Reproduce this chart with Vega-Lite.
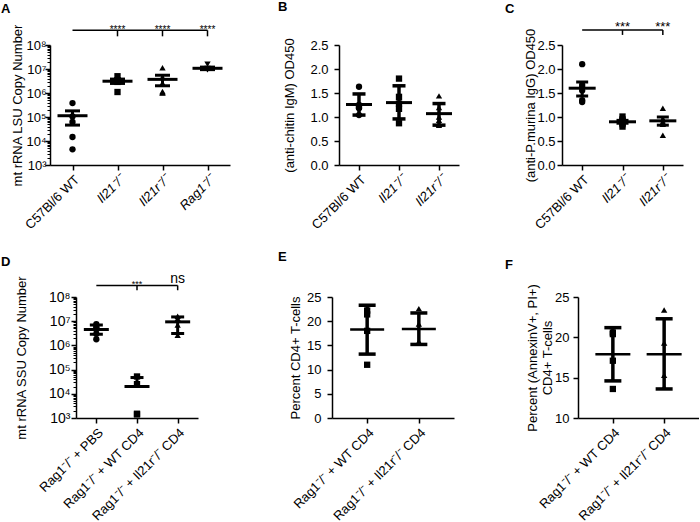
{
  "$schema": "https://vega.github.io/schema/vega-lite/v6.json",
  "padding": {"left": 0, "top": 0, "right": 0, "bottom": 0},
  "spacing": 252,
  "bounds": "flush",
  "datasets": {
    "a_pts": [
      {"group": "C57Bl/6 WT", "value": 380000}, {"group": "C57Bl/6 WT", "value": 105000}, {"group": "C57Bl/6 WT", "value": 62000}, {"group": "C57Bl/6 WT", "value": 14700}, {"group": "C57Bl/6 WT", "value": 4500},
      {"group": "Il21⁻/⁻", "value": 5000000}, {"group": "Il21⁻/⁻", "value": 3300000}, {"group": "Il21⁻/⁻", "value": 3000000}, {"group": "Il21⁻/⁻", "value": 2900000}, {"group": "Il21⁻/⁻", "value": 3400000}, {"group": "Il21⁻/⁻", "value": 1100000},
      {"group": "Il21r⁻/⁻", "value": 11300000}, {"group": "Il21r⁻/⁻", "value": 4600000}, {"group": "Il21r⁻/⁻", "value": 2600000}, {"group": "Il21r⁻/⁻", "value": 1150000}, {"group": "Il21r⁻/⁻", "value": 1000000}, {"group": "Il21r⁻/⁻", "value": 1050000},
      {"group": "Rag1⁻/⁻", "value": 15800000}, {"group": "Rag1⁻/⁻", "value": 10500000}, {"group": "Rag1⁻/⁻", "value": 10000000}, {"group": "Rag1⁻/⁻", "value": 9500000}, {"group": "Rag1⁻/⁻", "value": 9200000}, {"group": "Rag1⁻/⁻", "value": 10200000}
    ],
    "a_sum": [
      {"group": "C57Bl/6 WT", "mean": 113000, "lo": 46000, "hi": 180000},
      {"group": "Il21⁻/⁻", "mean": 3100000, "lo": 2500000, "hi": 3800000},
      {"group": "Il21r⁻/⁻", "mean": 3700000, "lo": 2000000, "hi": 5500000},
      {"group": "Rag1⁻/⁻", "mean": 10700000, "lo": 9400000, "hi": 12000000}
    ],
    "a_bar": [{"from": "C57Bl/6 WT", "to": "Rag1⁻/⁻", "y": 410000000}],
    "a_drop": [
      {"group": "Il21⁻/⁻", "top": 410000000, "bottom": 230000000, "label": "****"},
      {"group": "Il21r⁻/⁻", "top": 410000000, "bottom": 230000000, "label": "****"},
      {"group": "Rag1⁻/⁻", "top": 410000000, "bottom": 230000000, "label": "****"}
    ],
    "b_pts": [
      {"group": "C57Bl/6 WT", "value": 1.63}, {"group": "C57Bl/6 WT", "value": 1.25}, {"group": "C57Bl/6 WT", "value": 1.22}, {"group": "C57Bl/6 WT", "value": 1.2}, {"group": "C57Bl/6 WT", "value": 1.18}, {"group": "C57Bl/6 WT", "value": 1.04},
      {"group": "Il21⁻/⁻", "value": 1.8}, {"group": "Il21⁻/⁻", "value": 1.42}, {"group": "Il21⁻/⁻", "value": 1.28}, {"group": "Il21⁻/⁻", "value": 1.17}, {"group": "Il21⁻/⁻", "value": 0.87},
      {"group": "Il21r⁻/⁻", "value": 1.44}, {"group": "Il21r⁻/⁻", "value": 1.2}, {"group": "Il21r⁻/⁻", "value": 1.0}, {"group": "Il21r⁻/⁻", "value": 0.93}, {"group": "Il21r⁻/⁻", "value": 0.85}, {"group": "Il21r⁻/⁻", "value": 0.83}
    ],
    "b_sum": [
      {"group": "C57Bl/6 WT", "mean": 1.26, "lo": 1.04, "hi": 1.48},
      {"group": "Il21⁻/⁻", "mean": 1.3, "lo": 0.96, "hi": 1.65},
      {"group": "Il21r⁻/⁻", "mean": 1.07, "lo": 0.83, "hi": 1.28}
    ],
    "c_pts": [
      {"group": "C57Bl/6 WT", "value": 2.1}, {"group": "C57Bl/6 WT", "value": 1.67}, {"group": "C57Bl/6 WT", "value": 1.62}, {"group": "C57Bl/6 WT", "value": 1.55}, {"group": "C57Bl/6 WT", "value": 1.35}, {"group": "C57Bl/6 WT", "value": 1.31},
      {"group": "Il21⁻/⁻", "value": 1.01}, {"group": "Il21⁻/⁻", "value": 0.95}, {"group": "Il21⁻/⁻", "value": 0.92}, {"group": "Il21⁻/⁻", "value": 0.88}, {"group": "Il21⁻/⁻", "value": 0.85}, {"group": "Il21⁻/⁻", "value": 0.8},
      {"group": "Il21r⁻/⁻", "value": 1.18}, {"group": "Il21r⁻/⁻", "value": 0.96}, {"group": "Il21r⁻/⁻", "value": 0.95}, {"group": "Il21r⁻/⁻", "value": 0.9}, {"group": "Il21r⁻/⁻", "value": 0.85}, {"group": "Il21r⁻/⁻", "value": 0.62}
    ],
    "c_sum": [
      {"group": "C57Bl/6 WT", "mean": 1.6, "lo": 1.44, "hi": 1.73},
      {"group": "Il21⁻/⁻", "mean": 0.9, "lo": 0.87, "hi": 0.93},
      {"group": "Il21r⁻/⁻", "mean": 0.92, "lo": 0.83, "hi": 1.0}
    ],
    "c_bar": [{"from": "C57Bl/6 WT", "to": "Il21r⁻/⁻", "y": 2.81}],
    "c_drop": [
      {"group": "Il21⁻/⁻", "top": 2.81, "bottom": 2.71, "label": "***"},
      {"group": "Il21r⁻/⁻", "top": 2.81, "bottom": 2.71, "label": "***"}
    ],
    "d_pts": [
      {"group": "Rag1⁻/⁻ + PBS", "value": 7500000}, {"group": "Rag1⁻/⁻ + PBS", "value": 6000000}, {"group": "Rag1⁻/⁻ + PBS", "value": 5000000}, {"group": "Rag1⁻/⁻ + PBS", "value": 4500000}, {"group": "Rag1⁻/⁻ + PBS", "value": 3000000}, {"group": "Rag1⁻/⁻ + PBS", "value": 1800000},
      {"group": "Rag1⁻/⁻ + WT CD4", "value": 52000}, {"group": "Rag1⁻/⁻ + WT CD4", "value": 25000}, {"group": "Rag1⁻/⁻ + WT CD4", "value": 1500}, {"group": "Rag1⁻/⁻ + WT CD4", "value": 1400},
      {"group": "Rag1⁻/⁻ + Il21r⁻/⁻ CD4", "value": 16000000}, {"group": "Rag1⁻/⁻ + Il21r⁻/⁻ CD4", "value": 13000000}, {"group": "Rag1⁻/⁻ + Il21r⁻/⁻ CD4", "value": 7000000}, {"group": "Rag1⁻/⁻ + Il21r⁻/⁻ CD4", "value": 2600000}
    ],
    "d_sum": [
      {"group": "Rag1⁻/⁻ + PBS", "mean": 4500000, "lo": 2900000, "hi": 6900000},
      {"group": "Rag1⁻/⁻ + WT CD4", "mean": 20000, "lo": 20000, "hi": 47000},
      {"group": "Rag1⁻/⁻ + Il21r⁻/⁻ CD4", "mean": 9400000, "lo": 3100000, "hi": 15000000}
    ],
    "d_bar": [{"from": "Rag1⁻/⁻ + PBS", "to": "Rag1⁻/⁻ + Il21r⁻/⁻ CD4", "y": 300000000}],
    "d_drop": [
      {"group": "Rag1⁻/⁻ + WT CD4", "top": 300000000, "bottom": 190000000, "label": "***"},
      {"group": "Rag1⁻/⁻ + Il21r⁻/⁻ CD4", "top": 300000000, "bottom": 190000000, "label": "ns"}
    ],
    "e_pts": [
      {"group": "Rag1⁻/⁻ + WT CD4", "value": 22.2}, {"group": "Rag1⁻/⁻ + WT CD4", "value": 21.4}, {"group": "Rag1⁻/⁻ + WT CD4", "value": 18.0}, {"group": "Rag1⁻/⁻ + WT CD4", "value": 11.0},
      {"group": "Rag1⁻/⁻ + Il21r⁻/⁻ CD4", "value": 22.6}, {"group": "Rag1⁻/⁻ + Il21r⁻/⁻ CD4", "value": 19.4}, {"group": "Rag1⁻/⁻ + Il21r⁻/⁻ CD4", "value": 15.8}, {"group": "Rag1⁻/⁻ + Il21r⁻/⁻ CD4", "value": 15.6}
    ],
    "e_sum": [
      {"group": "Rag1⁻/⁻ + WT CD4", "mean": 18.3, "lo": 13.2, "hi": 23.3},
      {"group": "Rag1⁻/⁻ + Il21r⁻/⁻ CD4", "mean": 18.4, "lo": 15.2, "hi": 21.7}
    ],
    "f_pts": [
      {"group": "Rag1⁻/⁻ + WT CD4", "value": 20.6}, {"group": "Rag1⁻/⁻ + WT CD4", "value": 20.4}, {"group": "Rag1⁻/⁻ + WT CD4", "value": 17.1}, {"group": "Rag1⁻/⁻ + WT CD4", "value": 13.6},
      {"group": "Rag1⁻/⁻ + Il21r⁻/⁻ CD4", "value": 23.4}, {"group": "Rag1⁻/⁻ + Il21r⁻/⁻ CD4", "value": 19.3}, {"group": "Rag1⁻/⁻ + Il21r⁻/⁻ CD4", "value": 15.3}, {"group": "Rag1⁻/⁻ + Il21r⁻/⁻ CD4", "value": 13.8}
    ],
    "f_sum": [
      {"group": "Rag1⁻/⁻ + WT CD4", "mean": 17.9, "lo": 14.6, "hi": 21.2},
      {"group": "Rag1⁻/⁻ + Il21r⁻/⁻ CD4", "mean": 17.9, "lo": 13.6, "hi": 22.3}
    ]
  },
  "vconcat": [
    {
      "spacing": 0,
      "bounds": "flush",
      "hconcat": [
        {"width": 50, "height": 1, "data": {"values": []}, "mark": "point"},
        {
          "width": 180, "height": 120,
          "title": {"text": "A", "dx": -49, "offset": 8},
          "layer": [
            {"data": {"name": "a_pts"}, "mark": {"type": "point", "filled": true, "opacity": 1, "size": 40, "color": "black"},
             "encoding": {
               "x": {"field": "group", "type": "nominal", "scale": {"type": "point", "padding": 0.5, "domain": ["C57Bl/6 WT", "Il21⁻/⁻", "Il21r⁻/⁻", "Rag1⁻/⁻"]},
                     "axis": {"title": null, "labelFontStyle": {"condition": {"test": "datum.value != 'C57Bl/6 WT'", "value": "italic"}, "value": "normal"}}},
               "y": {"field": "value", "type": "quantitative", "scale": {"type": "log", "domain": [1000, 100000000], "nice": false},
                     "axis": {"title": "mt rRNA LSU Copy Number", "titlePadding": 1, "labelPadding": -1, "labelOverlap": false,
                              "values": [1000,2000,3000,4000,5000,6000,7000,8000,9000,10000,20000,30000,40000,50000,60000,70000,80000,90000,100000,200000,300000,400000,500000,600000,700000,800000,900000,1000000,2000000,3000000,4000000,5000000,6000000,7000000,8000000,9000000,10000000,20000000,30000000,40000000,50000000,60000000,70000000,80000000,90000000,100000000],
                              "labelExpr": "datum.value == 1000 ? '10³' : datum.value == 10000 ? '10⁴' : datum.value == 100000 ? '10⁵' : datum.value == 1000000 ? '10⁶' : datum.value == 10000000 ? '10⁷' : datum.value == 100000000 ? '10⁸' : ''",
                              "tickSize": {"condition": {"test": "indexof([1000,10000,100000,1000000,10000000,100000000], datum.value) >= 0", "value": 5}, "value": 3},
                              "tickWidth": {"condition": {"test": "indexof([1000,10000,100000,1000000,10000000,100000000], datum.value) >= 0", "value": 1.5}, "value": 1}}},
               "shape": {"field": "group", "type": "nominal", "scale": {"domain": ["C57Bl/6 WT", "Il21⁻/⁻", "Il21r⁻/⁻", "Rag1⁻/⁻"], "range": ["circle", "square", "triangle-up", "triangle-down"]}, "legend": null}
             }},
            {"data": {"name": "a_sum"}, "mark": {"type": "rule", "strokeWidth": 3, "color": "black"},
             "encoding": {"x": {"field": "group", "type": "nominal"}, "y": {"field": "lo", "type": "quantitative"}, "y2": {"field": "hi"}}},
            {"data": {"name": "a_sum"}, "mark": {"type": "tick", "orient": "horizontal", "size": 15, "thickness": 3, "color": "black", "opacity": 1},
             "encoding": {"x": {"field": "group", "type": "nominal"}, "y": {"field": "hi", "type": "quantitative"}}},
            {"data": {"name": "a_sum"}, "mark": {"type": "tick", "orient": "horizontal", "size": 15, "thickness": 3, "color": "black", "opacity": 1},
             "encoding": {"x": {"field": "group", "type": "nominal"}, "y": {"field": "lo", "type": "quantitative"}}},
            {"data": {"name": "a_sum"}, "mark": {"type": "tick", "orient": "horizontal", "size": 30, "thickness": 3, "color": "black", "opacity": 1},
             "encoding": {"x": {"field": "group", "type": "nominal"}, "y": {"field": "mean", "type": "quantitative"}}},
            {"data": {"name": "a_bar"}, "mark": {"type": "rule", "strokeWidth": 1.5, "color": "black"},
             "encoding": {"x": {"field": "from", "type": "nominal"}, "x2": {"field": "to"}, "y": {"field": "y", "type": "quantitative"}}},
            {"data": {"name": "a_drop"}, "mark": {"type": "rule", "strokeWidth": 1.5, "color": "black"},
             "encoding": {"x": {"field": "group", "type": "nominal"}, "y": {"field": "top", "type": "quantitative"}, "y2": {"field": "bottom"}}},
            {"data": {"name": "a_drop"}, "mark": {"type": "text", "fontSize": 10, "baseline": "alphabetic", "dy": 3, "color": "black"},
             "encoding": {"x": {"field": "group", "type": "nominal"}, "y": {"field": "top", "type": "quantitative"}, "text": {"field": "label"}}}
          ]
        },
        {"width": 109, "height": 1, "data": {"values": []}, "mark": "point"},
        {
          "width": 120, "height": 120,
          "title": {"text": "B", "dx": -61, "offset": 24},
          "layer": [
            {"data": {"name": "b_pts"}, "mark": {"type": "point", "filled": true, "opacity": 1, "size": 40, "color": "black"},
             "encoding": {
               "x": {"field": "group", "type": "nominal", "scale": {"type": "point", "padding": 0.5, "domain": ["C57Bl/6 WT", "Il21⁻/⁻", "Il21r⁻/⁻"]},
                     "axis": {"title": null, "labelFontStyle": {"condition": {"test": "datum.value != 'C57Bl/6 WT'", "value": "italic"}, "value": "normal"}}},
               "y": {"field": "value", "type": "quantitative", "scale": {"domain": [0, 2.5], "nice": false},
                     "axis": {"title": "(anti-chitin IgM) OD450", "titlePadding": 13, "labelPadding": 6, "labelOverlap": false, "tickCount": 6, "values": [0, 0.5, 1, 1.5, 2, 2.5], "format": ".1f"}},
               "shape": {"field": "group", "type": "nominal", "scale": {"domain": ["C57Bl/6 WT", "Il21⁻/⁻", "Il21r⁻/⁻"], "range": ["circle", "square", "triangle-up"]}, "legend": null}
             }},
            {"data": {"name": "b_sum"}, "mark": {"type": "rule", "strokeWidth": 3.5, "color": "black"},
             "encoding": {"x": {"field": "group", "type": "nominal"}, "y": {"field": "lo", "type": "quantitative"}, "y2": {"field": "hi"}}},
            {"data": {"name": "b_sum"}, "mark": {"type": "tick", "orient": "horizontal", "size": 13, "thickness": 3.5, "color": "black", "opacity": 1},
             "encoding": {"x": {"field": "group", "type": "nominal"}, "y": {"field": "hi", "type": "quantitative"}}},
            {"data": {"name": "b_sum"}, "mark": {"type": "tick", "orient": "horizontal", "size": 13, "thickness": 3.5, "color": "black", "opacity": 1},
             "encoding": {"x": {"field": "group", "type": "nominal"}, "y": {"field": "lo", "type": "quantitative"}}},
            {"data": {"name": "b_sum"}, "mark": {"type": "tick", "orient": "horizontal", "size": 26, "thickness": 3, "color": "black", "opacity": 1},
             "encoding": {"x": {"field": "group", "type": "nominal"}, "y": {"field": "mean", "type": "quantitative"}}}
          ]
        },
        {"width": 103, "height": 1, "data": {"values": []}, "mark": "point"},
        {
          "width": 121, "height": 120,
          "title": {"text": "C", "dx": -57, "offset": 5},
          "layer": [
            {"data": {"name": "c_pts"}, "mark": {"type": "point", "filled": true, "opacity": 1, "size": 40, "color": "black"},
             "encoding": {
               "x": {"field": "group", "type": "nominal", "scale": {"type": "point", "padding": 0.5, "domain": ["C57Bl/6 WT", "Il21⁻/⁻", "Il21r⁻/⁻"]},
                     "axis": {"title": null, "labelFontStyle": {"condition": {"test": "datum.value != 'C57Bl/6 WT'", "value": "italic"}, "value": "normal"}}},
               "y": {"field": "value", "type": "quantitative", "scale": {"domain": [0, 2.5], "nice": false},
                     "axis": {"title": "(anti-P.murina IgG) OD450", "titlePadding": -1, "labelPadding": 2, "labelOverlap": false, "tickCount": 6, "values": [0, 0.5, 1, 1.5, 2, 2.5], "format": ".1f"}},
               "shape": {"field": "group", "type": "nominal", "scale": {"domain": ["C57Bl/6 WT", "Il21⁻/⁻", "Il21r⁻/⁻"], "range": ["circle", "square", "triangle-up"]}, "legend": null}
             }},
            {"data": {"name": "c_sum"}, "mark": {"type": "rule", "strokeWidth": 3, "color": "black"},
             "encoding": {"x": {"field": "group", "type": "nominal"}, "y": {"field": "lo", "type": "quantitative"}, "y2": {"field": "hi"}}},
            {"data": {"name": "c_sum"}, "mark": {"type": "tick", "orient": "horizontal", "size": 12, "thickness": 3, "color": "black", "opacity": 1},
             "encoding": {"x": {"field": "group", "type": "nominal"}, "y": {"field": "hi", "type": "quantitative"}}},
            {"data": {"name": "c_sum"}, "mark": {"type": "tick", "orient": "horizontal", "size": 12, "thickness": 3, "color": "black", "opacity": 1},
             "encoding": {"x": {"field": "group", "type": "nominal"}, "y": {"field": "lo", "type": "quantitative"}}},
            {"data": {"name": "c_sum"}, "mark": {"type": "tick", "orient": "horizontal", "size": 27, "thickness": 3, "color": "black", "opacity": 1},
             "encoding": {"x": {"field": "group", "type": "nominal"}, "y": {"field": "mean", "type": "quantitative"}}},
            {"data": {"name": "c_bar"}, "mark": {"type": "rule", "strokeWidth": 1.5, "color": "black"},
             "encoding": {"x": {"field": "from", "type": "nominal"}, "x2": {"field": "to"}, "y": {"field": "y", "type": "quantitative"}}},
            {"data": {"name": "c_drop"}, "mark": {"type": "rule", "strokeWidth": 1.5, "color": "black"},
             "encoding": {"x": {"field": "group", "type": "nominal"}, "y": {"field": "top", "type": "quantitative"}, "y2": {"field": "bottom"}}},
            {"data": {"name": "c_drop"}, "mark": {"type": "text", "fontSize": 13, "baseline": "alphabetic", "dy": 1, "color": "black"},
             "encoding": {"x": {"field": "group", "type": "nominal"}, "y": {"field": "top", "type": "quantitative"}, "text": {"field": "label"}}}
          ]
        }
      ]
    },
    {
      "spacing": 0,
      "bounds": "flush",
      "hconcat": [
        {"width": 76, "height": 1, "data": {"values": []}, "mark": "point"},
        {
          "width": 122, "height": 121,
          "title": {"text": "D", "dx": -75, "offset": 3},
          "layer": [
            {"data": {"name": "d_pts"}, "mark": {"type": "point", "filled": true, "opacity": 1, "size": 40, "color": "black"},
             "encoding": {
               "x": {"field": "group", "type": "nominal", "scale": {"type": "point", "padding": 0.5, "domain": ["Rag1⁻/⁻ + PBS", "Rag1⁻/⁻ + WT CD4", "Rag1⁻/⁻ + Il21r⁻/⁻ CD4"]},
                     "axis": {"title": null}},
               "y": {"field": "value", "type": "quantitative", "scale": {"type": "log", "domain": [1000, 100000000], "nice": false},
                     "axis": {"title": "mt rRNA SSU Copy Number", "titlePadding": 20, "labelPadding": 1, "labelFontSize": 14, "labelOverlap": false,
                              "values": [1000,2000,3000,4000,5000,6000,7000,8000,9000,10000,20000,30000,40000,50000,60000,70000,80000,90000,100000,200000,300000,400000,500000,600000,700000,800000,900000,1000000,2000000,3000000,4000000,5000000,6000000,7000000,8000000,9000000,10000000,20000000,30000000,40000000,50000000,60000000,70000000,80000000,90000000,100000000],
                              "labelExpr": "datum.value == 1000 ? '10³' : datum.value == 10000 ? '10⁴' : datum.value == 100000 ? '10⁵' : datum.value == 1000000 ? '10⁶' : datum.value == 10000000 ? '10⁷' : datum.value == 100000000 ? '10⁸' : ''",
                              "tickSize": {"condition": {"test": "indexof([1000,10000,100000,1000000,10000000,100000000], datum.value) >= 0", "value": 5}, "value": 3},
                              "tickWidth": {"condition": {"test": "indexof([1000,10000,100000,1000000,10000000,100000000], datum.value) >= 0", "value": 1.5}, "value": 1}}},
               "shape": {"field": "group", "type": "nominal", "scale": {"domain": ["Rag1⁻/⁻ + PBS", "Rag1⁻/⁻ + WT CD4", "Rag1⁻/⁻ + Il21r⁻/⁻ CD4"], "range": ["circle", "square", "triangle-up"]}, "legend": null}
             }},
            {"data": {"name": "d_sum"}, "mark": {"type": "rule", "strokeWidth": 3, "color": "black"},
             "encoding": {"x": {"field": "group", "type": "nominal"}, "y": {"field": "lo", "type": "quantitative"}, "y2": {"field": "hi"}}},
            {"data": {"name": "d_sum"}, "mark": {"type": "tick", "orient": "horizontal", "size": 13, "thickness": 3, "color": "black", "opacity": 1},
             "encoding": {"x": {"field": "group", "type": "nominal"}, "y": {"field": "hi", "type": "quantitative"}}},
            {"data": {"name": "d_sum"}, "mark": {"type": "tick", "orient": "horizontal", "size": 13, "thickness": 3, "color": "black", "opacity": 1},
             "encoding": {"x": {"field": "group", "type": "nominal"}, "y": {"field": "lo", "type": "quantitative"}}},
            {"data": {"name": "d_sum"}, "mark": {"type": "tick", "orient": "horizontal", "size": 25, "thickness": 3, "color": "black", "opacity": 1},
             "encoding": {"x": {"field": "group", "type": "nominal"}, "y": {"field": "mean", "type": "quantitative"}}},
            {"data": {"name": "d_bar"}, "mark": {"type": "rule", "strokeWidth": 1.5, "color": "black"},
             "encoding": {"x": {"field": "from", "type": "nominal"}, "x2": {"field": "to"}, "y": {"field": "y", "type": "quantitative"}}},
            {"data": {"name": "d_drop"}, "mark": {"type": "rule", "strokeWidth": 1.5, "color": "black"},
             "encoding": {"x": {"field": "group", "type": "nominal"}, "y": {"field": "top", "type": "quantitative"}, "y2": {"field": "bottom"}}},
            {"data": {"name": "d_drop"}, "transform": [{"filter": "datum.label == '***'"}], "mark": {"type": "text", "fontSize": 9, "baseline": "alphabetic", "dy": 2, "color": "black"},
             "encoding": {"x": {"field": "group", "type": "nominal"}, "y": {"field": "top", "type": "quantitative"}, "text": {"field": "label"}}},
            {"data": {"name": "d_drop"}, "transform": [{"filter": "datum.label == 'ns'"}], "mark": {"type": "text", "fontSize": 14, "baseline": "alphabetic", "dy": -2, "color": "black"},
             "encoding": {"x": {"field": "group", "type": "nominal"}, "y": {"field": "top", "type": "quantitative"}, "text": {"field": "label"}}}
          ]
        },
        {"width": 134, "height": 1, "data": {"values": []}, "mark": "point"},
        {
          "width": 122, "height": 121,
          "title": {"text": "E", "dx": -54, "offset": 27},
          "layer": [
            {"data": {"name": "e_pts"}, "mark": {"type": "point", "filled": true, "opacity": 1, "size": 40, "color": "black"},
             "encoding": {
               "x": {"field": "group", "type": "nominal", "scale": {"type": "point", "padding": 0.68, "domain": ["Rag1⁻/⁻ + WT CD4", "Rag1⁻/⁻ + Il21r⁻/⁻ CD4"]},
                     "axis": {"title": null}},
               "y": {"field": "value", "type": "quantitative", "scale": {"domain": [0, 25], "nice": false},
                     "axis": {"title": "Percent CD4+ T-cells", "titlePadding": 4, "labelPadding": 6, "labelOverlap": false, "tickCount": 6, "values": [0, 5, 10, 15, 20, 25]}},
               "shape": {"field": "group", "type": "nominal", "scale": {"domain": ["Rag1⁻/⁻ + WT CD4", "Rag1⁻/⁻ + Il21r⁻/⁻ CD4"], "range": ["circle", "square"]}, "legend": null}
             }},
            {"data": {"name": "e_sum"}, "mark": {"type": "rule", "strokeWidth": 3.5, "color": "black"},
             "encoding": {"x": {"field": "group", "type": "nominal"}, "y": {"field": "lo", "type": "quantitative"}, "y2": {"field": "hi"}}},
            {"data": {"name": "e_sum"}, "mark": {"type": "tick", "orient": "horizontal", "size": 17, "thickness": 3.5, "color": "black", "opacity": 1},
             "encoding": {"x": {"field": "group", "type": "nominal"}, "y": {"field": "hi", "type": "quantitative"}}},
            {"data": {"name": "e_sum"}, "mark": {"type": "tick", "orient": "horizontal", "size": 17, "thickness": 3.5, "color": "black", "opacity": 1},
             "encoding": {"x": {"field": "group", "type": "nominal"}, "y": {"field": "lo", "type": "quantitative"}}},
            {"data": {"name": "e_sum"}, "mark": {"type": "tick", "orient": "horizontal", "size": 34, "thickness": 2.5, "color": "black", "opacity": 1},
             "encoding": {"x": {"field": "group", "type": "nominal"}, "y": {"field": "mean", "type": "quantitative"}}}
          ]
        },
        {"width": 124, "height": 1, "data": {"values": []}, "mark": "point"},
        {
          "width": 121, "height": 121,
          "title": {"text": "F", "dx": -73, "offset": 12},
          "layer": [
            {"data": {"name": "f_pts"}, "mark": {"type": "point", "filled": true, "opacity": 1, "size": 40, "color": "black"},
             "encoding": {
               "x": {"field": "group", "type": "nominal", "scale": {"type": "point", "padding": 0.68, "domain": ["Rag1⁻/⁻ + WT CD4", "Rag1⁻/⁻ + Il21r⁻/⁻ CD4"]},
                     "axis": {"title": null}},
               "y": {"field": "value", "type": "quantitative", "scale": {"domain": [10, 25], "nice": false, "zero": false},
                     "axis": {"title": ["Percent (AnnexinV+, PI+)", "CD4+ T-cells"], "titlePadding": 0, "labelPadding": 4, "labelOverlap": false, "values": [10, 15, 20, 25]}},
               "shape": {"field": "group", "type": "nominal", "scale": {"domain": ["Rag1⁻/⁻ + WT CD4", "Rag1⁻/⁻ + Il21r⁻/⁻ CD4"], "range": ["circle", "square"]}, "legend": null}
             }},
            {"data": {"name": "f_sum"}, "mark": {"type": "rule", "strokeWidth": 3.5, "color": "black"},
             "encoding": {"x": {"field": "group", "type": "nominal"}, "y": {"field": "lo", "type": "quantitative"}, "y2": {"field": "hi"}}},
            {"data": {"name": "f_sum"}, "mark": {"type": "tick", "orient": "horizontal", "size": 17, "thickness": 3.5, "color": "black", "opacity": 1},
             "encoding": {"x": {"field": "group", "type": "nominal"}, "y": {"field": "hi", "type": "quantitative"}}},
            {"data": {"name": "f_sum"}, "mark": {"type": "tick", "orient": "horizontal", "size": 17, "thickness": 3.5, "color": "black", "opacity": 1},
             "encoding": {"x": {"field": "group", "type": "nominal"}, "y": {"field": "lo", "type": "quantitative"}}},
            {"data": {"name": "f_sum"}, "mark": {"type": "tick", "orient": "horizontal", "size": 35, "thickness": 2.5, "color": "black", "opacity": 1},
             "encoding": {"x": {"field": "group", "type": "nominal"}, "y": {"field": "mean", "type": "quantitative"}}}
          ]
        }
      ]
    }
  ],
  "config": {
    "font": "Liberation Sans",
    "background": "white",
    "view": {"stroke": null},
    "axis": {"domainColor": "black", "domainWidth": 1.5, "tickColor": "black", "tickWidth": 1.5, "tickSize": 5, "labelColor": "black", "labelFontSize": 13, "labelOverlap": false, "labelFlush": false, "titleColor": "black", "titleFontSize": 13, "titleFontWeight": "normal", "grid": false},
    "axisX": {"labelAngle": -45, "labelFontSize": 13, "labelPadding": 3},
    "title": {"color": "black", "fontSize": 13, "fontWeight": "bold", "anchor": "start", "frame": "group"}
  }
}
